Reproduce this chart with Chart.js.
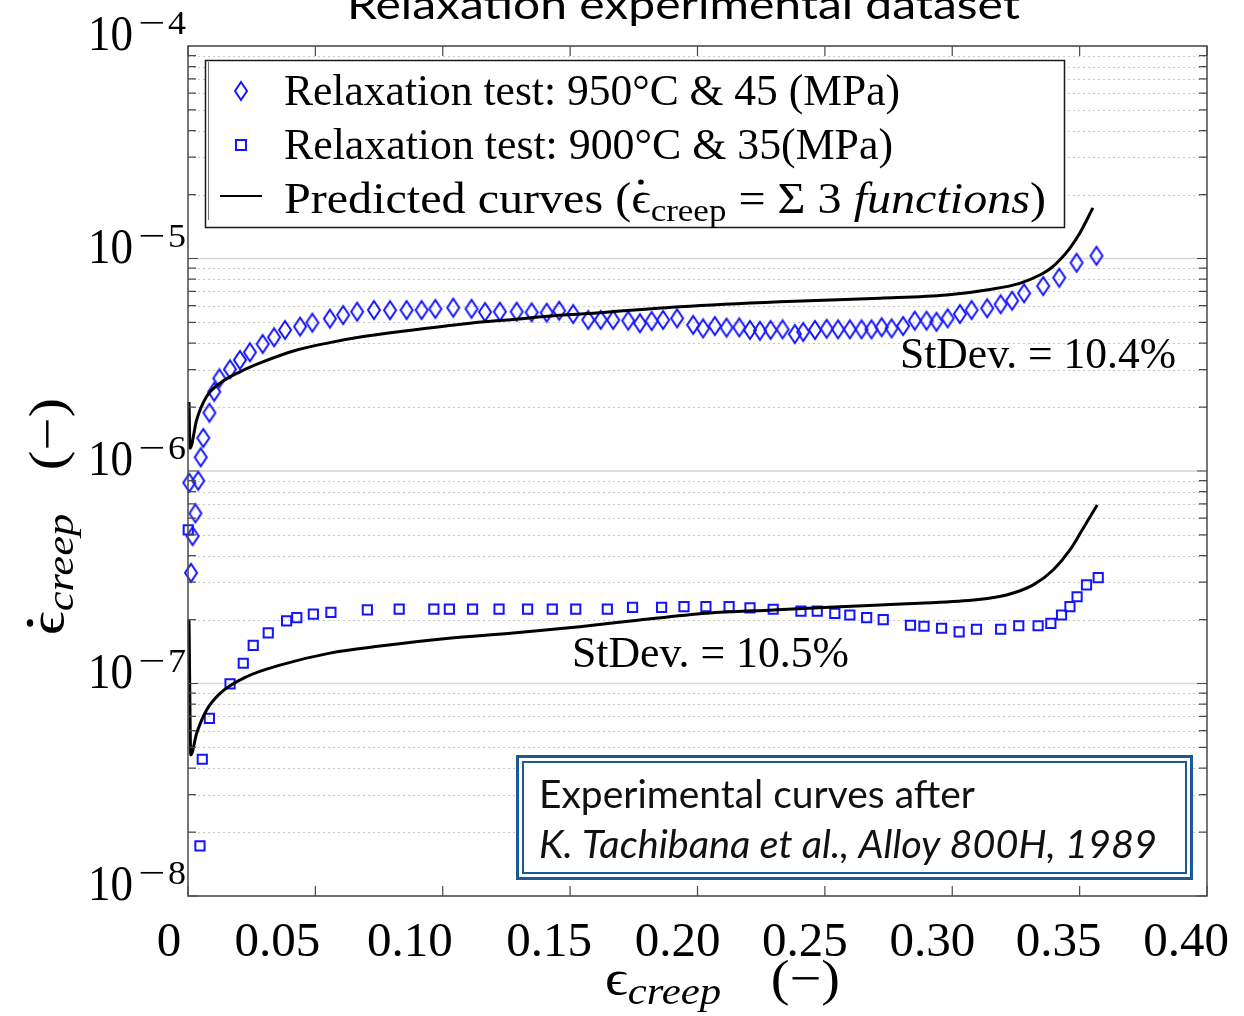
<!DOCTYPE html>
<html>
<head>
<meta charset="utf-8">
<script src="https://cdn.jsdelivr.net/npm/chart.js@4.4.1/dist/chart.umd.min.js"></script>
<style>
  html, body { margin: 0; padding: 0; background: #fff; overflow: hidden; }
  canvas { display: block; }
</style>
</head>
<body>
<canvas id="chart" width="1244" height="1016"></canvas>
<script>
// ---- Relaxation test, 950 °C & 45 MPa (diamonds) ----
const strain950 = [0.0012, 0.0018, 0.0029, 0.0005, 0.0040, 0.0050, 0.0060, 0.0084, 0.0103, 0.0123,
  0.0165, 0.0204, 0.0243, 0.0293, 0.0338, 0.0381, 0.0440, 0.0488, 0.0557, 0.0609,
  0.0664, 0.0730, 0.0793, 0.0858, 0.0917, 0.0971, 0.1041, 0.1113, 0.1166, 0.1224,
  0.1290, 0.1349, 0.1408, 0.1457, 0.1512, 0.1571, 0.1620, 0.1669, 0.1728, 0.1774,
  0.1820, 0.1865, 0.1920, 0.1983, 0.2022, 0.2068, 0.2114, 0.2164, 0.2206, 0.2245,
  0.2287, 0.2334, 0.2382, 0.2415, 0.2461, 0.2507, 0.2552, 0.2598, 0.2644, 0.2683,
  0.2723, 0.2762, 0.2807, 0.2853, 0.2899, 0.2938, 0.2982, 0.3030, 0.3076, 0.3137,
  0.3190, 0.3235, 0.3282, 0.3357, 0.3420, 0.3488, 0.3566];
const rate950 = [3.32e-7, 4.94e-7, 6.32e-7, 8.81e-7, 9.00e-7, 1.16e-6, 1.43e-6, 1.88e-6, 2.36e-6, 2.73e-6,
  3.01e-6, 3.33e-6, 3.62e-6, 3.96e-6, 4.26e-6, 4.61e-6, 4.78e-6, 4.99e-6, 5.21e-6, 5.42e-6,
  5.62e-6, 5.72e-6, 5.71e-6, 5.72e-6, 5.72e-6, 5.79e-6, 5.87e-6, 5.80e-6, 5.60e-6, 5.62e-6,
  5.62e-6, 5.58e-6, 5.56e-6, 5.68e-6, 5.48e-6, 5.14e-6, 5.14e-6, 5.14e-6, 5.10e-6, 4.96e-6,
  5.08e-6, 5.14e-6, 5.23e-6, 4.87e-6, 4.69e-6, 4.81e-6, 4.73e-6, 4.74e-6, 4.61e-6, 4.57e-6,
  4.61e-6, 4.64e-6, 4.41e-6, 4.51e-6, 4.61e-6, 4.67e-6, 4.64e-6, 4.64e-6, 4.64e-6, 4.64e-6,
  4.75e-6, 4.69e-6, 4.81e-6, 5.10e-6, 5.10e-6, 5.04e-6, 5.23e-6, 5.48e-6, 5.72e-6, 5.83e-6,
  6.09e-6, 6.33e-6, 6.86e-6, 7.42e-6, 8.12e-6, 9.55e-6, 1.03e-5];

// ---- Relaxation test, 900 °C & 35 MPa (squares) ----
const strain900 = [0.0001, 0.0047, 0.0056, 0.0084, 0.0165, 0.0217, 0.0256, 0.0315, 0.0387, 0.0427,
  0.0492, 0.0561, 0.0704, 0.0829, 0.0965, 0.1026, 0.1117, 0.1221, 0.1333, 0.1430,
  0.1522, 0.1646, 0.1745, 0.1859, 0.1947, 0.2033, 0.2124, 0.2206, 0.2297, 0.2406,
  0.2470, 0.2539, 0.2598, 0.2664, 0.2729, 0.2836, 0.2889, 0.2958, 0.3027, 0.3095,
  0.3190, 0.3261, 0.3337, 0.3387, 0.3429, 0.3462, 0.3490, 0.3527, 0.3573];
const rate900 = [5.28e-7, 1.72e-8, 4.40e-8, 6.86e-8, 9.95e-8, 1.245e-7, 1.51e-7, 1.73e-7, 1.97e-7, 2.04e-7,
  2.12e-7, 2.16e-7, 2.22e-7, 2.24e-7, 2.24e-7, 2.24e-7, 2.24e-7, 2.24e-7, 2.24e-7, 2.24e-7,
  2.24e-7, 2.24e-7, 2.28e-7, 2.28e-7, 2.30e-7, 2.30e-7, 2.30e-7, 2.27e-7, 2.235e-7, 2.19e-7,
  2.19e-7, 2.14e-7, 2.10e-7, 2.04e-7, 2.00e-7, 1.88e-7, 1.86e-7, 1.82e-7, 1.75e-7, 1.80e-7,
  1.80e-7, 1.87e-7, 1.87e-7, 1.92e-7, 2.10e-7, 2.30e-7, 2.56e-7, 2.91e-7, 3.15e-7];

// ---- Predicted curves (sum of 3 functions) ----
const strainFit950 = [0.0004, 0.0008, 0.0034, 0.0073, 0.0126, 0.0204, 0.0296, 0.0427, 0.0557, 0.0688,
  0.0884, 0.1080, 0.1277, 0.1473, 0.1617, 0.1931, 0.2323, 0.2716, 0.2978, 0.3148,
  0.3265, 0.3344, 0.3383, 0.3422, 0.3462, 0.3501, 0.3552];
const rateFit950 = [2.11e-6, 1.28e-6, 1.74e-6, 2.24e-6, 2.59e-6, 2.93e-6, 3.27e-6, 3.71e-6, 4.02e-6, 4.29e-6,
  4.61e-6, 4.92e-6, 5.17e-6, 5.42e-6, 5.56e-6, 5.93e-6, 6.26e-6, 6.50e-6, 6.73e-6, 7.15e-6,
  7.64e-6, 8.36e-6, 8.92e-6, 9.84e-6, 1.12e-5, 1.318e-5, 1.73e-5];
const strainFit900 = [0.0004, 0.0011, 0.0034, 0.0073, 0.0126, 0.0230, 0.0361, 0.0557, 0.0754, 0.1015,
  0.1277, 0.1538, 0.1774, 0.2036, 0.2297, 0.2559, 0.2821, 0.3082, 0.3213, 0.3318,
  0.3396, 0.3462, 0.3514, 0.3569];
const rateFit900 = [1.99e-7, 4.61e-8, 5.83e-8, 7.50e-8, 8.99e-8, 1.076e-7, 1.22e-7, 1.39e-7, 1.50e-7, 1.63e-7,
  1.73e-7, 1.85e-7, 1.99e-7, 2.14e-7, 2.22e-7, 2.30e-7, 2.37e-7, 2.47e-7, 2.61e-7, 2.91e-7,
  3.42e-7, 4.25e-7, 5.38e-7, 6.92e-7];

// ---- Axes ----
const xTickValues = [0, 0.05, 0.10, 0.15, 0.20, 0.25, 0.30, 0.35, 0.40];
const xTickLabels = ['0', '0.05', '0.10', '0.15', '0.20', '0.25', '0.30', '0.35', '0.40'];
const yDecades = [1e-4, 1e-5, 1e-6, 1e-7, 1e-8];
const yDecadeExponents = ['4', '5', '6', '7', '8'];

// ---- Texts ----
const chartTitle = 'Relaxation experimental dataset';
const legendLabels = ['Relaxation test: 950°C & 45 (MPa)', 'Relaxation test: 900°C & 35(MPa)'];
const stdevLabels = ['StDev. = 10.4%', 'StDev. = 10.5%'];
const sourceLines = ['Experimental curves after', 'K. Tachibana et al., Alloy 800H, 1989'];

const SERIF = "'Liberation Serif','DejaVu Serif',serif";
const SANS = "Lato,'Open Sans','DejaVu Sans',sans-serif";
const BLUE = '#1414ff';
const BOX_BLUE = '#1d5a94';

// hand-tuned horizontal placement of the x tick labels
const xLabelNudge = [-19, -38, -33, -21, -20, -20, -20, -21, -21];

const toPoints = (xs, ys) => xs.map((x, i) => ({ x, y: ys[i] }));

// tall open diamond marker
function makeDiamond() {
  const c = document.createElement('canvas');
  c.width = 16; c.height = 22;
  const g = c.getContext('2d');
  g.strokeStyle = BLUE; g.lineWidth = 2;
  g.beginPath();
  g.moveTo(8, 2); g.lineTo(14, 11); g.lineTo(8, 20); g.lineTo(2, 11); g.closePath();
  g.stroke();
  return c;
}
const diamond = makeDiamond();

// draws a run of text pieces with mixed fonts, optionally squeezed to a target width
function drawRich(ctx, segs, x, y, target) {
  ctx.save();
  ctx.textAlign = 'left';
  ctx.textBaseline = 'alphabetic';
  let total = 0;
  const widths = segs.map(s => {
    let w = 0;
    if (s.t) { ctx.font = s.font; w = ctx.measureText(s.t).width; }
    total += w + (s.gap || 0);
    return w;
  });
  const k = target ? target / total : 1;
  ctx.translate(x, y);
  ctx.scale(k, 1);
  let cx = 0;
  segs.forEach((s, i) => {
    if (s.t) { ctx.font = s.font; ctx.fillText(s.t, cx, s.dy || 0); }
    if (s.dot) {
      ctx.beginPath();
      ctx.arc(cx + widths[i] / 2 + (s.dot.dx || 0), -s.dot.h, s.dot.r, 0, Math.PI * 2);
      ctx.fill();
    }
    cx += widths[i] + (s.gap || 0);
  });
  ctx.restore();
}

const backgroundPlugin = {
  id: 'whiteBackground',
  beforeDraw(chart) {
    const ctx = chart.ctx;
    ctx.save();
    ctx.fillStyle = '#fff';
    ctx.fillRect(0, 0, chart.width, chart.height);
    ctx.restore();
  }
};

const gridPlugin = {
  id: 'logGrid',
  beforeDatasetsDraw(chart) {
    const { ctx, chartArea: a, scales: { y } } = chart;
    ctx.save();
    // minor grid (2..9 of each decade), dotted
    ctx.strokeStyle = '#c9c9c9';
    ctx.lineWidth = 1;
    ctx.setLineDash([2, 3]);
    for (let d = 1e-8; d < 1e-4 * 0.99; d *= 10) {
      for (let m = 2; m <= 9; m++) {
        const py = Math.round(y.getPixelForValue(m * d)) + 0.5;
        ctx.beginPath(); ctx.moveTo(a.left, py); ctx.lineTo(a.right, py); ctx.stroke();
      }
    }
    // decade grid, solid
    ctx.setLineDash([]);
    ctx.strokeStyle = '#d6d6d6';
    ctx.lineWidth = 1.5;
    yDecades.forEach(v => {
      const py = y.getPixelForValue(v);
      ctx.beginPath(); ctx.moveTo(a.left, py); ctx.lineTo(a.right, py); ctx.stroke();
    });
    ctx.restore();
  }
};

const framePlugin = {
  id: 'frameAndTicks',
  afterDatasetsDraw(chart) {
    const { ctx, chartArea: a, scales: { x, y } } = chart;
    ctx.save();
    ctx.strokeStyle = '#4a4a4a';
    ctx.lineWidth = 1.5;
    ctx.strokeRect(a.left, a.top, a.right - a.left, a.bottom - a.top);
    ctx.lineWidth = 1.2;
    // x ticks, top and bottom, inward
    xTickValues.forEach(v => {
      const px = x.getPixelForValue(v);
      ctx.beginPath();
      ctx.moveTo(px, a.bottom); ctx.lineTo(px, a.bottom - 10);
      ctx.moveTo(px, a.top); ctx.lineTo(px, a.top + 10);
      ctx.stroke();
    });
    // y ticks, left and right, inward
    for (let d = 1e-8; d < 1e-4 * 0.99; d *= 10) {
      for (let m = 1; m <= 9; m++) {
        const py = y.getPixelForValue(m * d);
        const len = m === 1 ? 10 : 8;
        ctx.beginPath();
        ctx.moveTo(a.left, py); ctx.lineTo(a.left + len, py);
        ctx.moveTo(a.right, py); ctx.lineTo(a.right - len, py);
        ctx.stroke();
      }
    }
    ctx.restore();

    // tick labels
    ctx.save();
    ctx.fillStyle = '#000';
    ctx.textBaseline = 'alphabetic';
    ctx.font = `49px ${SERIF}`;
    ctx.textAlign = 'center';
    xTickValues.forEach((v, i) => {
      ctx.fillText(xTickLabels[i], x.getPixelForValue(v) + xLabelNudge[i], a.bottom + 60);
    });
    yDecades.forEach((v, i) => {
      const py = y.getPixelForValue(v);
      drawRich(ctx, [{ t: '10', font: `50px ${SERIF}` }], 88, py + 4, 45);
      drawRich(ctx, [{ t: '−', font: `34px ${SERIF}` }], 138, py - 12, 27);
      drawRich(ctx, [{ t: yDecadeExponents[i], font: `34px ${SERIF}` }], 168, py - 12, 18);
    });
    ctx.restore();
  }
};

const annotationPlugin = {
  id: 'annotations',
  afterDraw(chart) {
    const ctx = chart.ctx;
    ctx.save();
    ctx.fillStyle = '#000';

    // title (runs off the top edge)
    drawRich(ctx, [{ t: chartTitle, font: `40px ${SANS}` }], 347, 19, 673);

    // axis titles
    drawRich(ctx, [
      { t: 'ϵ', font: `50px ${SERIF}` },
      { t: 'creep', font: `italic 38px ${SERIF}`, dy: 9, gap: 44 },
      { t: '(−)', font: `50px ${SERIF}` }
    ], 605, 995, 235);

    ctx.save();
    ctx.translate(64, 635);
    ctx.rotate(-Math.PI / 2);
    drawRich(ctx, [
      { t: 'ϵ', font: `50px ${SERIF}`, dot: { h: 34, r: 3.2 } },
      { t: 'creep', font: `italic 38px ${SERIF}`, dy: 9, gap: 37 },
      { t: '(−)', font: `50px ${SERIF}` }
    ], 0, 0, 237);
    ctx.restore();

    // legend
    ctx.fillStyle = '#fff';
    ctx.fillRect(205, 60, 859, 167);
    ctx.strokeStyle = '#1a1a1a';
    ctx.lineWidth = 1.5;
    ctx.strokeRect(205.5, 60.5, 859, 167);
    ctx.beginPath(); ctx.moveTo(208.5, 62); ctx.lineTo(208.5, 220); ctx.lineWidth = 1; ctx.strokeStyle = '#777'; ctx.stroke();

    ctx.drawImage(diamond, 241 - diamond.width / 2, 91 - diamond.height / 2);
    ctx.strokeStyle = BLUE; ctx.lineWidth = 2;
    ctx.strokeRect(236, 140, 10, 10);
    ctx.strokeStyle = '#000'; ctx.lineWidth = 2;
    ctx.beginPath(); ctx.moveTo(220, 196); ctx.lineTo(262, 196); ctx.stroke();

    ctx.fillStyle = '#000';
    drawRich(ctx, [{ t: legendLabels[0], font: `44px ${SERIF}` }], 284, 105, 616);
    drawRich(ctx, [{ t: legendLabels[1], font: `44px ${SERIF}` }], 284, 159, 609);
    drawRich(ctx, [
      { t: 'Predicted curves (', font: `44px ${SERIF}` },
      { t: 'ϵ', font: `44px ${SERIF}`, dot: { h: 31, r: 2.6 } },
      { t: 'creep', font: `32px ${SERIF}`, dy: 8 },
      { t: ' = Σ 3 ', font: `44px ${SERIF}` },
      { t: 'functions', font: `italic 44px ${SERIF}` },
      { t: ')', font: `44px ${SERIF}` }
    ], 284, 213, 762);

    // standard deviation labels
    drawRich(ctx, [{ t: stdevLabels[0], font: `44px ${SERIF}` }], 900, 368, 276);
    drawRich(ctx, [{ t: stdevLabels[1], font: `44px ${SERIF}` }], 572, 667, 277);

    // source box with double border
    ctx.fillStyle = '#fff';
    ctx.fillRect(516, 755, 676, 125);
    ctx.strokeStyle = BOX_BLUE;
    ctx.lineWidth = 3;
    ctx.strokeRect(517.5, 756.5, 674, 122);
    ctx.lineWidth = 2;
    ctx.strokeRect(523, 762, 663, 111);
    ctx.fillStyle = '#111';
    drawRich(ctx, [{ t: sourceLines[0], font: `38px ${SANS}` }], 539, 808, 436);
    drawRich(ctx, [{ t: sourceLines[1], font: `italic 38px ${SANS}` }], 539, 858, 618);

    ctx.restore();
  }
};

new Chart(document.getElementById('chart'), {
  type: 'scatter',
  data: {
    datasets: [
      {
        label: legendLabels[0],
        data: toPoints(strain950, rate950),
        pointStyle: diamond,
        pointRadius: 8,
        showLine: false,
        clip: false,
        order: 2
      },
      {
        label: legendLabels[1],
        data: toPoints(strain900, rate900),
        pointStyle: 'rect',
        pointRadius: 6.5,
        borderColor: BLUE,
        backgroundColor: 'rgba(0,0,0,0)',
        borderWidth: 2,
        showLine: false,
        clip: false,
        order: 2
      },
      {
        label: 'Predicted 950°C',
        data: toPoints(strainFit950, rateFit950),
        showLine: true,
        pointRadius: 0,
        borderColor: '#000',
        borderWidth: 3,
        cubicInterpolationMode: 'monotone',
        clip: false,
        order: 1
      },
      {
        label: 'Predicted 900°C',
        data: toPoints(strainFit900, rateFit900),
        showLine: true,
        pointRadius: 0,
        borderColor: '#000',
        borderWidth: 3,
        cubicInterpolationMode: 'monotone',
        clip: false,
        order: 1
      }
    ]
  },
  options: {
    responsive: false,
    animation: false,
    devicePixelRatio: 1,
    layout: { padding: { left: 188, top: 46, right: 37, bottom: 120 } },
    scales: {
      x: { type: 'linear', min: 0, max: 0.4, display: false },
      y: { type: 'logarithmic', min: 1e-8, max: 1e-4, display: false }
    },
    plugins: {
      legend: { display: false },
      tooltip: { enabled: false },
      title: { display: false }
    },
    events: []
  },
  plugins: [backgroundPlugin, gridPlugin, framePlugin, annotationPlugin]
});
</script>
</body>
</html>
